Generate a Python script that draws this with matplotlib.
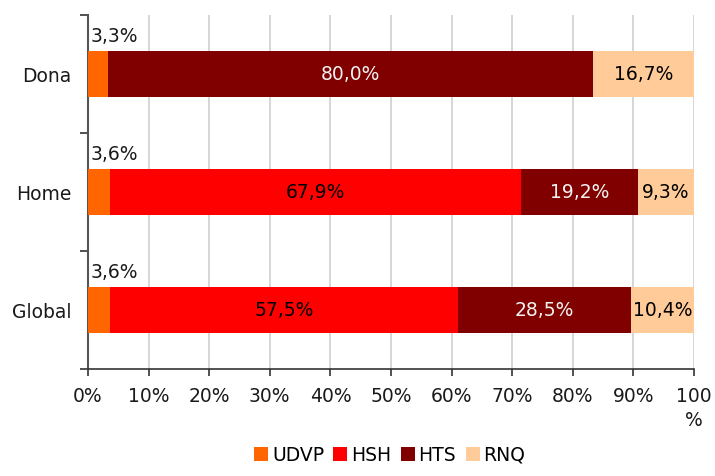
import matplotlib
matplotlib.use("Agg")
import matplotlib.pyplot as plt
import numpy as np

categories = ["Global", "Home", "Dona"]
series = ["UDVP", "HSH", "HTS", "RNQ"]
udvp = [3.6, 3.6, 3.3]
hsh = [57.5, 67.9, 0.0]
hts = [28.5, 19.2, 80.0]
rnq = [10.4, 9.3, 16.7]
xtick_labels = ["0%", "10%", "20%", "30%", "40%", "50%", "60%", "70%", "80%", "90%", "100\n%"]

colors = ["#FF6600", "#FF0000", "#800000", "#FFCC99"]
text_colors = ["black", "black", "#F2F2F2", "black"]

plt.rcParams['font.family'] = 'DejaVu Sans'
plt.rcParams['font.sans-serif'] = ['DejaVu Sans']
FS = 13.5
fig = plt.figure(figsize=(7.15, 4.76), dpi=100)
ax = fig.add_axes([88/715, 1 - 369/476, (694 - 88)/715, (369 - 15)/476])

y = np.arange(len(categories))
h = 0.39
left = np.zeros(len(categories))
data = [udvp, hsh, hts, rnq]
for i, (name, vals) in enumerate(zip(series, data)):
    vals = np.array(vals)
    ax.barh(y, vals, left=left, height=h, color=colors[i], label=name, zorder=3)
    for j, v in enumerate(vals):
        if v <= 0:
            continue
        lab = f"{v:.1f}%".replace(".", ",")
        if i == 0:
            ax.text(left[j] + 0.4, y[j] + h/2 + 0.04, lab, ha='left', va='bottom',
                    fontsize=FS, color='#1a1a1a', zorder=4)
        else:
            ax.text(left[j] + v/2, y[j], lab, ha='center', va='center',
                    fontsize=FS, color=text_colors[i], zorder=4)
    left = left + vals

ax.set_xlim(0, 100)
ax.set_ylim(-0.5, 2.5)
ax.set_xticks(np.arange(0, 101, 10))
ax.set_xticklabels(xtick_labels, fontsize=FS, color='#1a1a1a', linespacing=1.35)
ax.tick_params(axis='x', length=5, width=1.2, color='#333333', pad=8, direction='out')
ax.set_yticks([-0.5, 0.5, 1.5, 2.5])
ax.set_yticklabels([])
ax.tick_params(axis='y', which='major', length=6, width=1.2, color='#333333', direction='out')
ax.set_yticks(y, minor=True)
ax.set_yticklabels(categories, minor=True, fontsize=FS, color='#1a1a1a')
ax.tick_params(axis='y', which='minor', length=0, pad=12)

ax.grid(axis='x', color='#D0D0D0', linewidth=1.2, zorder=0)
ax.set_axisbelow(True)
for s in ['top', 'right']:
    ax.spines[s].set_visible(False)
ax.spines['left'].set_color('#555555')
ax.spines['left'].set_linewidth(1.5)
ax.spines['bottom'].set_color('#333333')
ax.spines['bottom'].set_linewidth(1.2)

fig.legend(loc='lower center', bbox_to_anchor=(0.545, -0.012), ncol=4, frameon=False,
           prop={'size': FS}, handlelength=0.75, handleheight=0.75,
           handletextpad=0.2, columnspacing=0.5)

fig.savefig("out.png", dpi=100)
